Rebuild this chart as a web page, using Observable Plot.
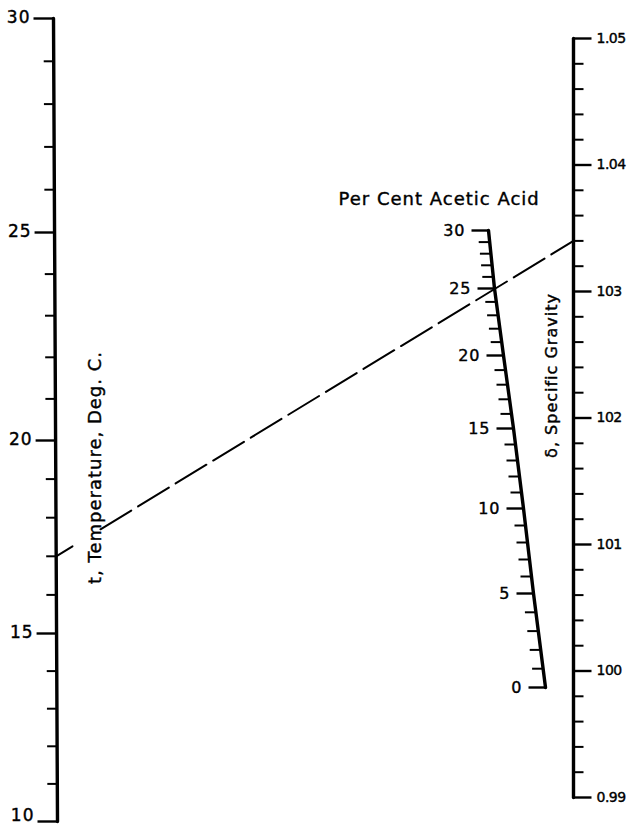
<!DOCTYPE html>
<html>
<head>
<meta charset="utf-8">
<script src="https://cdn.jsdelivr.net/npm/d3@7"></script>
<script src="https://cdn.jsdelivr.net/npm/@observablehq/plot@0.6"></script>
<style>
html,body{margin:0;padding:0;background:#fff;}
#chart svg{display:block;}
#chart svg text{letter-spacing:1px;}
</style>
</head>
<body>
<div id="chart"></div>
<script>
// ---------- DATA ----------
const tempTicks = [10,11,12,13,14,15,16,17,18,19,20,21,22,23,24,25,26,27,28,29,30];
const tempMajor = [10,15,20,25,30];
const tempLabels = ["10","15","20","25","30"];

const acidTicks = [0,1,2,3,4,5,6,7,8,9,10,11,12,13,14,15,16,17,18,19,20,21,22,23,24,25,26,27,28,29,30];
const acidMajor = [0,5,10,15,20,25,30];
const acidLabels = ["0","5","10","15","20","25","30"];

const sgTicks = [0.990,0.992,0.994,0.996,0.998,1.000,1.002,1.004,1.006,1.008,1.010,1.012,1.014,1.016,1.018,1.020,
                 1.022,1.024,1.026,1.028,1.030,1.032,1.034,1.036,1.038,1.040,1.042,1.044,1.046,1.048,1.050];
const sgMajor = [0.99,1.00,1.01,1.02,1.03,1.04,1.05];
const sgLabels = ["0.99","100","101","102","103","1.04","1.05"];

// worked example drawn as the dashed index line
const exampleTemp = 17;
const exampleAcid = 25;
const exampleSG = 1.034;

const titleTemp = "t, Temperature, Deg. C.";
const titleAcid = "Per Cent Acetic Acid";
const titleSG = "δ, Specific Gravity";

// ---------- NOMOGRAM LAYOUT (calibration of the three scales on the page) ----------
const W = 631, H = 826;
const tempY = d3.scaleLinear().domain([10,15,20,25,30]).range([821,633,440,232,18]);
const tempX = t => 57 - (821 - tempY(t)) / 803 * 4;
const sgY = d3.scaleLinear().domain([0.99,1.05]).range([797,38]);
const sgX = () => 573;
const acidX = d3.scaleLinear().domain([0,5,10,15,20,25,30]).range([545,533,523,513,503,494,488]);
const acidY = d3.scaleLinear().domain([0,5,10,15,20,25,30]).range([687,593,508,428,355,288,230]);

const isMajor = (v, majors) => majors.some(m => Math.abs(m - v) < 1e-9);

// axis spines
const tempSpine = [10,30].map(t => ({x: tempX(t), y: tempY(t)}));
const sgSpine = [0.99,1.05].map(s => ({x: sgX(), y: sgY(s)}));
const acidSpine = acidMajor.map(a => ({x: acidX(a), y: acidY(a)}));

// ticks
const tempTickData = tempTicks.map(t => {
  const m = isMajor(t, tempMajor);
  return {x1: tempX(t), x2: tempX(t) - (m ? 20 : 10), y: tempY(t), m};
});
const sgTickData = sgTicks.map(s => {
  const m = isMajor(s, sgMajor);
  return {x1: sgX(), x2: sgX() + (m ? 18 : 10), y: sgY(s), m};
});
const acidTickData = acidTicks.map(a => {
  const m = isMajor(a, acidMajor);
  return {x1: acidX(a), x2: acidX(a) - (m ? 17 : 11), y: acidY(a), m};
});

// labels (kept inside the page)
const clampY = y => Math.max(11, Math.min(H - 11, y));
const tempLabelData = tempMajor.map((t,i) => ({x: tempX(t) - 23, y: clampY(tempY(t) - 1), text: tempLabels[i]}));
const sgLabelData = sgMajor.map((s,i) => ({x: sgX() + 23, y: sgY(s), text: sgLabels[i]}));
const acidLabelData = acidMajor.map((a,i) => ({x: acidX(a) - 23, y: acidY(a), text: acidLabels[i]}));

// index line through the example
const A = {x: tempX(exampleTemp), y: tempY(exampleTemp)};
const B = {x: sgX(), y: sgY(exampleSG)};
const atX = x => ({x, y: A.y + (B.y - A.y) * (x - A.x) / (B.x - A.x)});
const stub = [A, atX(72)];
const dashed = [atX(100), B];

const txt = {fill: "#000", stroke: "#000", strokeWidth: 0.4};

const chart = Plot.plot({
  width: W, height: H,
  margin: 0,
  x: {domain: [0, W], range: [0, W], axis: null},
  y: {domain: [0, H], range: [0, H], axis: null},
  style: {fontFamily: "DejaVu Sans", fontSize: "16px", background: "#fff", color: "#000"},
  marks: [
    Plot.line(stub, {x: "x", y: "y", stroke: "#000", strokeWidth: 2}),
    Plot.line(dashed, {x: "x", y: "y", stroke: "#000", strokeWidth: 2, strokeDasharray: "36,8"}),
    Plot.line(tempSpine, {x: "x", y: "y", stroke: "#000", strokeWidth: 3.4}),
    Plot.line(sgSpine, {x: "x", y: "y", stroke: "#000", strokeWidth: 3.4}),
    Plot.line(acidSpine, {x: "x", y: "y", stroke: "#000", strokeWidth: 3.4}),
    Plot.link(tempTickData, {x1: "x1", x2: "x2", y1: "y", y2: "y", stroke: "#000", strokeWidth: d => d.m ? 2.4 : 2}),
    Plot.link(sgTickData, {x1: "x1", x2: "x2", y1: "y", y2: "y", stroke: "#000", strokeWidth: d => d.m ? 2.4 : 2}),
    Plot.link(acidTickData, {x1: "x1", x2: "x2", y1: "y", y2: "y", stroke: "#000", strokeWidth: d => d.m ? 2.4 : 2}),
    Plot.text(tempLabelData, {x: "x", y: "y", text: "text", textAnchor: "end", fontSize: 17, ...txt}),
    Plot.text(sgLabelData, {x: "x", y: "y", text: "text", textAnchor: "start", fontSize: 14, ...txt}),
    Plot.text(acidLabelData, {x: "x", y: "y", text: "text", textAnchor: "end", fontSize: 16, ...txt}),
    Plot.text([titleAcid], {x: 338, y: 199, text: d => d, textAnchor: "start", fontSize: 18, ...txt}),
    Plot.text([titleTemp], {x: 95, y: 467, text: d => d, rotate: -90, fontSize: 18, ...txt}),
    Plot.text([titleSG], {x: 551, y: 375, text: d => d, rotate: -90, fontSize: 16, ...txt})
  ]
});
// gravity labels: no extra spacing so they stay inside the page
d3.select(chart).selectAll("text")
  .filter(function() { return sgLabels.includes(this.textContent); })
  .style("letter-spacing", "-0.5px");
document.getElementById("chart").appendChild(chart);
</script>
</body>
</html>
